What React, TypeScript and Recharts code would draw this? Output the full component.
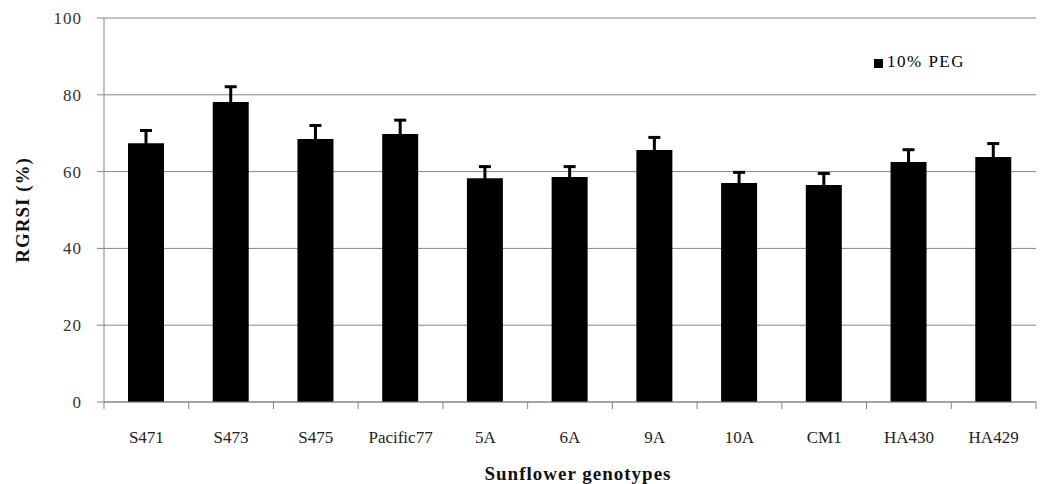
import { Bar, BarChart, CartesianGrid, ErrorBar, Legend, XAxis, YAxis } from "recharts";

const genotypes = ["S471", "S473", "S475", "Pacific77", "5A", "6A", "9A", "10A", "CM1", "HA430", "HA429"];
const rgrsi = [67.4, 78.1, 68.5, 69.8, 58.3, 58.6, 65.6, 57.0, 56.5, 62.5, 63.8];
const rgrsiErr = [3.3, 4.0, 3.5, 3.6, 3.0, 2.7, 3.3, 2.8, 3.0, 3.2, 3.5];
const yTicks = [0, 20, 40, 60, 80, 100];

const W = 1048;
const H = 484;
const LEFT = 104;
const RIGHT = 12;
const STEP = (W - LEFT - RIGHT) / genotypes.length;
const AXIS = "#868686";
const FONT = "'Liberation Serif', 'Times New Roman', serif";

const data = genotypes.map((name, i) => ({
  name,
  value: rgrsi[i],
  err: rgrsiErr[i],
}));

function XTick(props: any) {
  const { x, y, payload, index } = props;
  const half = STEP / 2;
  // y here is the text anchor; axis line sits 24px above it
  const top = y - 24;
  return (
    <g>
      {index === 0 && <line x1={x - half} x2={x - half} y1={top} y2={top + 7} stroke={AXIS} />}
      <line x1={x + half} x2={x + half} y1={top} y2={top + 7} stroke={AXIS} />
      <text x={x} y={y} dy={17} textAnchor="middle" fill="#222" fontSize={17} fontFamily={FONT}>
        {payload.value}
      </text>
    </g>
  );
}

function YTitle(props: any) {
  const { viewBox } = props;
  const cy = viewBox.y + viewBox.height / 2;
  return (
    <text
      x={22}
      y={cy}
      transform={`rotate(-90, 22, ${cy})`}
      textAnchor="middle"
      dominantBaseline="central"
      fontWeight="bold"
      fontSize={19}
      letterSpacing={1}
      fontFamily={FONT}
      fill="#111"
    >
      RGRSI (%)
    </text>
  );
}

export default function App() {
  return (
    <div style={{ position: "absolute", left: 0, top: 0, background: "#fff" }}>
      <BarChart width={W} height={H} data={data} margin={{ top: 18, right: RIGHT, bottom: 0, left: 0 }}>
        <CartesianGrid vertical={false} stroke={AXIS} />
        <XAxis
          dataKey="name"
          interval={0}
          height={82}
          stroke={AXIS}
          tickLine={false}
          tickSize={0}
          tickMargin={24}
          tick={<XTick />}
          label={{
            value: "Sunflower genotypes",
            position: "insideBottom",
            offset: 4,
            dx: 8,
            fill: "#111",
            fontWeight: "bold",
            fontSize: 19,
            letterSpacing: 1,
            fontFamily: FONT,
          }}
        />
        <YAxis
          width={LEFT}
          domain={[0, 100]}
          ticks={yTicks}
          stroke={AXIS}
          tickSize={7}
          tickMargin={15}
          tick={{ fill: "#333", fontSize: 17, letterSpacing: 1, fontFamily: FONT }}
          label={<YTitle />}
        />
        <Legend
          verticalAlign="middle"
          align="center"
          layout="horizontal"
          iconType="square"
          iconSize={9}
          wrapperStyle={{ top: 52, left: 874, width: "auto", fontFamily: FONT, fontSize: 17, letterSpacing: 1.5 }}
          formatter={(v) => <span style={{ color: "#000" }}>{v}</span>}
        />
        <Bar dataKey="value" name="10% PEG" fill="#000" barSize={36} isAnimationActive={false}>
          <ErrorBar dataKey="err" direction="y" width={6} strokeWidth={3} stroke="#000" />
        </Bar>
      </BarChart>
    </div>
  );
}
